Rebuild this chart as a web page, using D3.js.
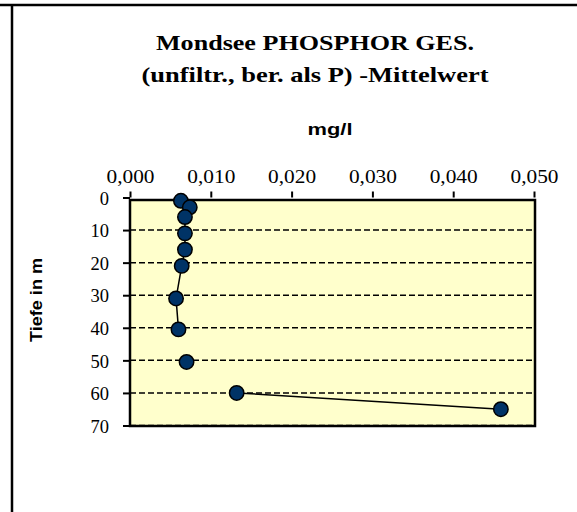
<!DOCTYPE html>
<html>
<head>
<meta charset="utf-8">
<script src="https://cdn.jsdelivr.net/npm/d3@7"></script>
<style>
  body { margin: 0; background: #fff; }
  svg { display: block; }
</style>
</head>
<body>
<div id="chart"></div>
<script>
// depth profile, mean total phosphorus
var depth   = [1, 3, 6, 11, 16, 21, 31, 40.5, 50.5, 60, 65];
var phos    = [0.0063, 0.0074, 0.0068, 0.0068, 0.0068, 0.0064, 0.0057, 0.0060, 0.0070, 0.0132, 0.0459];
var segment = [1, 1, 1, 1, 1, 1, 1, 1, 2, 3, 3]; // line breaks where samples are missing
var xTicks  = [0, 0.01, 0.02, 0.03, 0.04, 0.05];
var yTicks  = [0, 10, 20, 30, 40, 50, 60, 70];
var titleLines = ["Mondsee  PHOSPHOR  GES.", "(unfiltr., ber. als P) -Mittelwert"];
var titleWidths = [318, 347];

var W = 577, H = 512;
var svg = d3.select("#chart").append("svg")
	.attr("width", W)
	.attr("height", H);

// outer chart frame (only top and left edges are visible)
svg.append("line").attr("x1", 0).attr("x2", W).attr("y1", 5).attr("y2", 5)
	.attr("stroke", "#000").attr("stroke-width", 2.5);
svg.append("line").attr("x1", 12).attr("x2", 12).attr("y1", 5).attr("y2", H)
	.attr("stroke", "#000").attr("stroke-width", 2.5);

var x = d3.scaleLinear().domain([0, 0.05]).range([130, 534]);
var y = d3.scaleLinear().domain([0, 70]).range([197.5, 425.5]);

// plot area
svg.append("rect")
	.attr("x", 130).attr("y", 200)
	.attr("width", 405).attr("height", 226)
	.attr("fill", "#FFFFCC")
	.attr("stroke", "#000")
	.attr("stroke-width", 2.5);

// horizontal dashed gridlines
svg.selectAll("line.grid")
	.data(yTicks.filter(function(d) { return d > 0; }))
	.enter().append("line")
	.attr("class", "grid")
	.attr("x1", 130).attr("x2", 535)
	.attr("y1", function(d) { return y(d); })
	.attr("y2", function(d) { return y(d); })
	.attr("stroke", "#000")
	.attr("stroke-width", 1.5)
	.attr("stroke-dasharray", "6,3");

// axes
var fmt = function(d) { return d3.format(".3f")(d).replace(".", ","); };
var xAxis = svg.append("g")
	.attr("transform", "translate(0,197.5)")
	.call(d3.axisTop(x).tickValues(xTicks).tickFormat(fmt).tickSize(6).tickPadding(9));
var yAxis = svg.append("g")
	.attr("transform", "translate(130,0)")
	.call(d3.axisLeft(y).tickValues(yTicks).tickSize(7).tickPadding(14));

[xAxis, yAxis].forEach(function(g) {
	g.select(".domain").remove();
	g.selectAll(".tick line").attr("stroke", "#000").attr("stroke-width", 2);
	g.selectAll(".tick text")
		.attr("fill", "#000")
		.style("font-family", "'Liberation Serif', 'Times New Roman', serif")
		.style("font-size", "18.5px");
});
xAxis.selectAll(".tick text")
	.attr("textLength", 48)
	.attr("lengthAdjust", "spacingAndGlyphs");
yAxis.selectAll(".tick text").attr("dy", "0.36em");

// series
var pts = depth.map(function(d, i) { return {d: d, v: phos[i], s: segment[i]}; });
var line = d3.line()
	.x(function(p) { return x(p.v); })
	.y(function(p) { return y(p.d); });
var groups = d3.groups(pts, function(p) { return p.s; });
svg.selectAll("path.series")
	.data(groups)
	.enter().append("path")
	.attr("class", "series")
	.attr("d", function(g) { return line(g[1]); })
	.attr("fill", "none")
	.attr("stroke", "#000")
	.attr("stroke-width", 1.5);

svg.selectAll("circle.pt")
	.data(pts)
	.enter().append("circle")
	.attr("class", "pt")
	.attr("cx", function(p) { return x(p.v); })
	.attr("cy", function(p) { return y(p.d); })
	.attr("r", 7.2)
	.attr("fill", "#003366")
	.attr("stroke", "#000")
	.attr("stroke-width", 1.5);

// titles
svg.selectAll("text.title")
	.data(titleLines)
	.enter().append("text")
	.attr("class", "title")
	.attr("x", 315)
	.attr("y", function(d, i) { return 50 + 32 * i; })
	.attr("text-anchor", "middle")
	.attr("textLength", function(d, i) { return titleWidths[i]; })
	.attr("lengthAdjust", "spacingAndGlyphs")
	.style("font-family", "'Liberation Serif', 'Times New Roman', serif")
	.style("font-weight", "bold")
	.style("font-size", "21px")
	.text(function(d) { return d; });

svg.append("text")
	.attr("x", 330).attr("y", 135)
	.attr("text-anchor", "middle")
	.attr("textLength", 45)
	.attr("lengthAdjust", "spacingAndGlyphs")
	.style("font-family", "'Liberation Sans', Arial, sans-serif")
	.style("font-weight", "bold")
	.style("font-size", "16px")
	.text("mg/l");

svg.append("text")
	.attr("transform", "translate(42,300) rotate(-90)")
	.attr("text-anchor", "middle")
	.attr("textLength", 84)
	.attr("lengthAdjust", "spacingAndGlyphs")
	.style("font-family", "'Liberation Sans', Arial, sans-serif")
	.style("font-weight", "bold")
	.style("font-size", "16px")
	.text("Tiefe in m");
</script>
</body>
</html>
